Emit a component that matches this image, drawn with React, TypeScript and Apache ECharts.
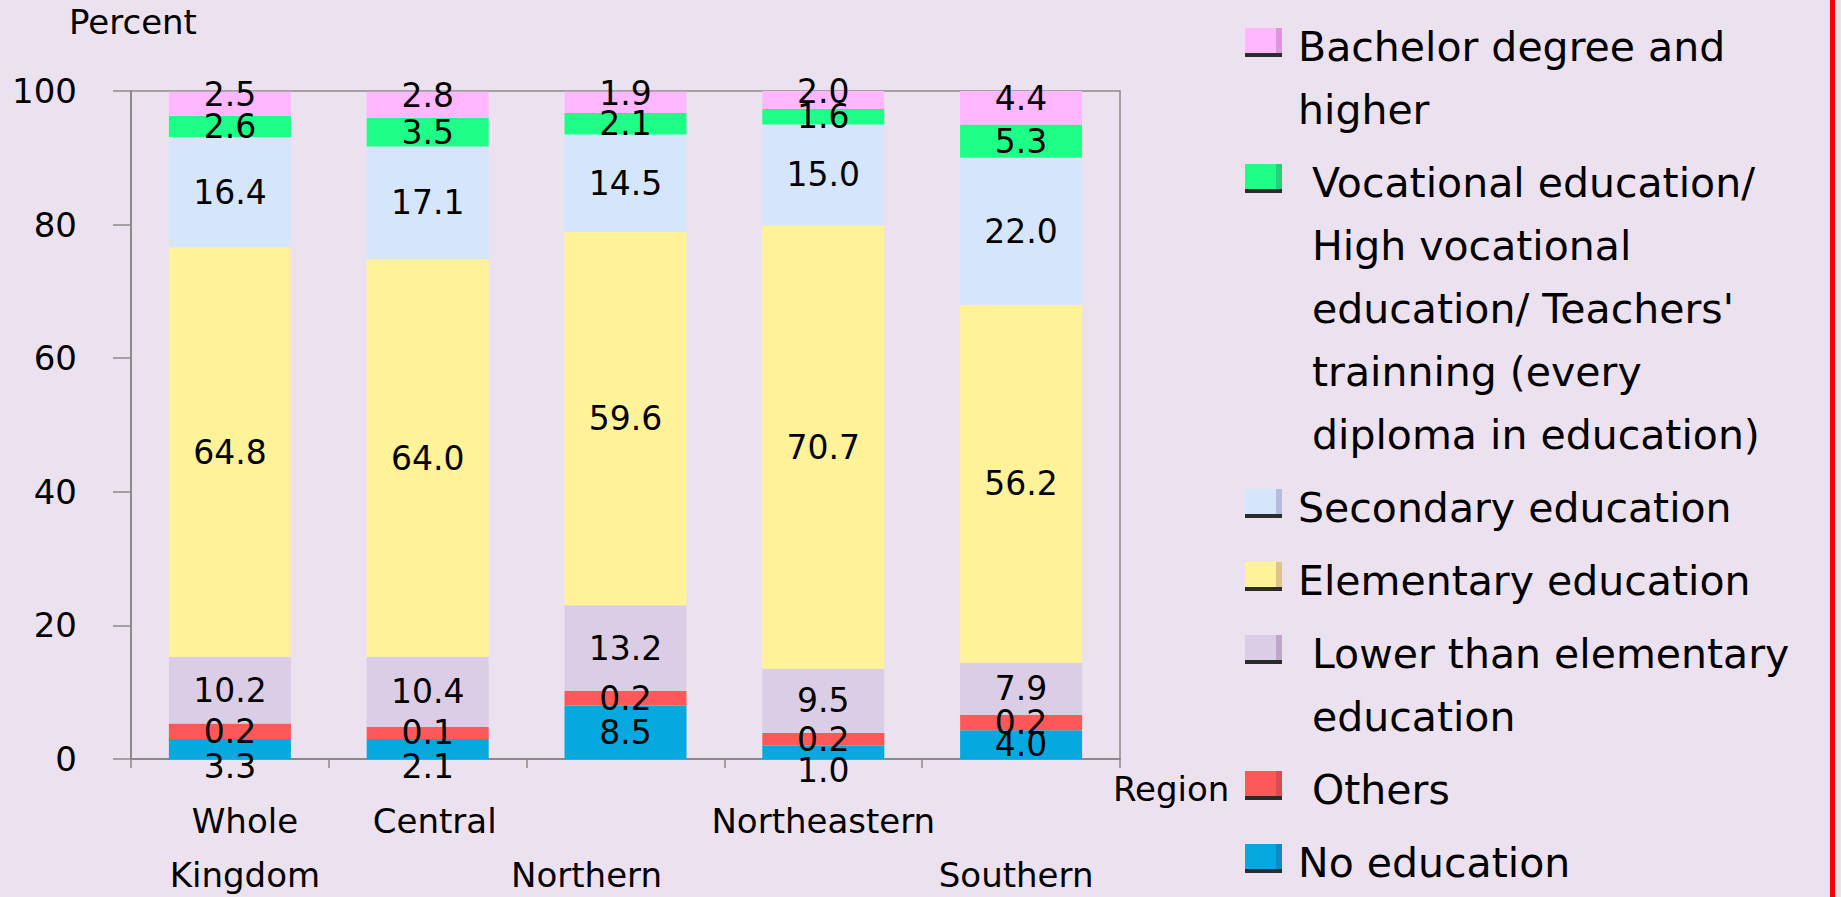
import React, { useEffect, useRef } from 'react';
import * as echarts from 'echarts';

// ---- data ----
const regions = ['Whole Kingdom', 'Central', 'Northern', 'Northeastern', 'Southern'];
const yTickValues = [0, 20, 40, 60, 80, 100];

// segment lengths as drawn in the picture (percent), bottom to top
const noEducation = [3.0, 3.0, 8.0, 2.0, 4.3];
const others = [2.3, 1.8, 2.2, 1.9, 2.3];
const lowerThanElementary = [10.0, 10.5, 12.8, 9.6, 7.8];
const elementary = [61.3, 59.5, 55.9, 66.4, 53.6];
const secondary = [16.5, 16.9, 14.6, 15.1, 22.0];
const vocational = [3.2, 4.3, 3.2, 2.3, 5.0];
const bachelor = [3.6, 3.9, 3.2, 2.7, 5.0];

// printed value labels
const noEducationLabels = ['3.3', '2.1', '8.5', '1.0', '4.0'];
const othersLabels = ['0.2', '0.1', '0.2', '0.2', '0.2'];
const lowerThanElementaryLabels = ['10.2', '10.4', '13.2', '9.5', '7.9'];
const elementaryLabels = ['64.8', '64.0', '59.6', '70.7', '56.2'];
const secondaryLabels = ['16.4', '17.1', '14.5', '15.0', '22.0'];
const vocationalLabels = ['2.6', '3.5', '2.1', '1.6', '5.3'];
const bachelorLabels = ['2.5', '2.8', '1.9', '2.0', '4.4'];

// legend texts (bottom-to-top series order), as wrapped in the picture
const legendTexts = [
  'No education',
  'Others',
  'Lower than elementary\neducation',
  'Elementary education',
  'Secondary education',
  "Vocational education/\nHigh vocational\neducation/ Teachers'\ntrainning (every\ndiploma in education)",
  'Bachelor degree and\nhigher',
];

// ---- styling ----
const FONT = '"DejaVu Sans", Verdana, sans-serif';
const colors = ['#05A9E0', '#FF5858', '#DCCDE6', '#FFF299', '#D4E5FC', '#1EFF88', '#FFB8FF'];
const legendIndent = [0, 14, 14, 0, 0, 14, 0];
const categoryPadding = [
  [0, 0, 0, 30],
  [0, 0, 0, 14],
  [0, 78, 0, 0],
  [0, 0, 0, 0],
  [0, 10, 0, 0],
];

const segValues = [noEducation, others, lowerThanElementary, elementary, secondary, vocational, bachelor];
const segLabels = [
  noEducationLabels,
  othersLabels,
  lowerThanElementaryLabels,
  elementaryLabels,
  secondaryLabels,
  vocationalLabels,
  bachelorLabels,
];

function buildOption() {
  const axisGray = '#8a8a8a';

  const series = segValues.map((vals, k) => ({
    type: 'bar',
    name: legendTexts[k].replace(/\n/g, ' '),
    stack: 'total',
    barWidth: 122,
    itemStyle: { color: colors[k] },
    label: {
      show: true,
      position: 'inside',
      color: '#000',
      fontSize: 33,
      fontFamily: FONT,
      formatter: (p: any) => segLabels[k][p.dataIndex],
    },
    data: vals.map((v) => {
      let offset = [0, 0];
      if (k === 0 && v < 3.5) offset = [0, 18];
      if (k === segValues.length - 1) offset = [0, -9];
      return { value: v, label: { offset } };
    }),
  }));

  // legend, drawn top to bottom (reverse of stacking order)
  const legendEls: any[] = [];
  const lineH = 63;
  let firstCenter = 47;
  for (let k = segValues.length - 1; k >= 0; k--) {
    const lines = legendTexts[k].split('\n').length;
    const sqY = firstCenter - 5 - 14;
    legendEls.push(
      { type: 'rect', shape: { x: 1245, y: sqY, width: 37, height: 29 }, style: { fill: colors[k] } },
      { type: 'rect', shape: { x: 1276, y: sqY, width: 6, height: 29 }, style: { fill: 'rgba(60,0,60,0.18)' } },
      { type: 'rect', shape: { x: 1245, y: sqY + 25, width: 37, height: 4 }, style: { fill: '#2b2b2b' } },
      {
        type: 'text',
        x: 1298 + legendIndent[k],
        y: firstCenter - lineH / 2,
        style: {
          text: legendTexts[k],
          fontSize: 41,
          fontFamily: FONT,
          fill: '#000',
          lineHeight: lineH,
          verticalAlign: 'top',
          align: 'left',
        },
      }
    );
    firstCenter += lines * lineH + 10;
  }

  return {
    animation: false,
    backgroundColor: '#ECE1EE',
    grid: {
      left: 131,
      top: 91,
      width: 989,
      height: 668,
      containLabel: false,
      outerBoundsMode: 'none',
      show: true,
      borderColor: axisGray,
      borderWidth: 1.5,
      backgroundColor: 'transparent',
    },
    xAxis: {
      type: 'category',
      data: regions.map((r, i) => ({ value: r, textStyle: { padding: categoryPadding[i] } })),
      axisLine: { show: true, lineStyle: { color: axisGray, width: 2 } },
      axisTick: { show: true, length: 9, lineStyle: { color: axisGray, width: 1.5 } },
      axisLabel: {
        interval: 0,
        margin: 35,
        color: '#000',
        fontSize: 34,
        fontFamily: FONT,
        lineHeight: 54,
        formatter: (v: string, i: number) => (i === 0 ? v.replace(' ', '\n') : i % 2 === 0 ? '\n' + v : v),
      },
    },
    yAxis: {
      type: 'value',
      min: 0,
      max: 100,
      interval: 20,
      axisLine: { show: true, lineStyle: { color: axisGray, width: 2 } },
      axisTick: { show: true, length: 18, lineStyle: { color: axisGray, width: 1.5 } },
      splitLine: { show: false },
      axisLabel: {
        margin: 54,
        color: '#000',
        fontSize: 34,
        fontFamily: FONT,
        formatter: (v: number) => (yTickValues.includes(v) ? String(v) : ''),
      },
    },
    series,
    graphic: [
      {
        type: 'text',
        x: 69,
        y: 22,
        style: { text: 'Percent', fontSize: 34, fontFamily: FONT, fill: '#000', verticalAlign: 'middle', align: 'left' },
      },
      {
        type: 'text',
        x: 1113,
        y: 789,
        style: { text: 'Region', fontSize: 34, fontFamily: FONT, fill: '#000', verticalAlign: 'middle', align: 'left' },
      },
      ...legendEls,
      { type: 'rect', shape: { x: 1830, y: 0, width: 5, height: 897 }, style: { fill: '#FF0000' } },
    ],
  };
}

export default function App() {
  const ref = useRef<HTMLDivElement>(null);
  useEffect(() => {
    if (!ref.current) return;
    const chart = echarts.init(ref.current, null, { renderer: 'svg' });
    chart.setOption(buildOption() as any);
    return () => chart.dispose();
  }, []);
  return (
    <div
      ref={ref}
      style={{ position: 'fixed', left: 0, top: 0, width: 1841, height: 897, background: '#ECE1EE' }}
    />
  );
}
